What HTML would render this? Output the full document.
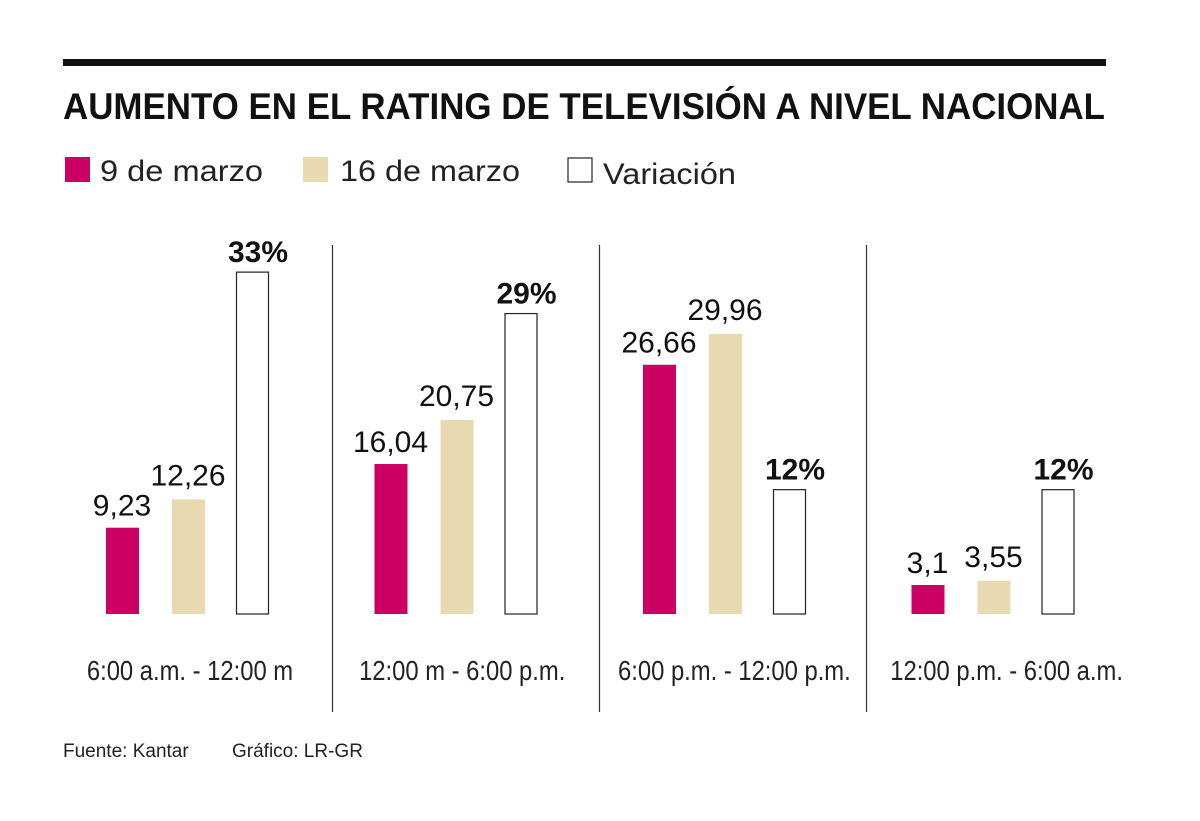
<!DOCTYPE html>
<html><head><meta charset="utf-8"><style>
body{margin:0;background:#fff;}
svg{display:block;font-family:"Liberation Sans",sans-serif;}
</style></head><body>
<svg id="chart" width="1200" height="821">
<rect x="63" y="59" width="1043" height="7" fill="#111"/>
<text x="63" y="119" font-size="37" font-weight="bold" fill="#111" textLength="1042" lengthAdjust="spacingAndGlyphs">AUMENTO EN EL RATING DE TELEVISIÓN A NIVEL NACIONAL</text>
<g>
<rect x="65" y="157" width="25" height="25" fill="#cc0063"/>
<text x="100" y="181" font-size="30" fill="#222" textLength="163" lengthAdjust="spacingAndGlyphs">9 de marzo</text>
<rect x="303" y="157" width="25" height="25" fill="#e9d9b0"/>
<text x="340" y="181" font-size="30" fill="#222" textLength="180" lengthAdjust="spacingAndGlyphs">16 de marzo</text>
<rect x="568" y="158" width="24" height="24" fill="#fff" stroke="#222" stroke-width="1.2"/>
<text x="603" y="184" font-size="30" fill="#222" textLength="133" lengthAdjust="spacingAndGlyphs">Variación</text>
</g>
<g id="bars"></g>
<text x="63" y="757" font-size="19" fill="#222">Fuente: Kantar</text>
<text x="232" y="757" font-size="19" fill="#222">Gráfico: LR-GR</text>
</svg>
<script>
const categories = ["6:00 a.m. - 12:00 m","12:00 m - 6:00 p.m.","6:00 p.m. - 12:00 p.m.","12:00 p.m. - 6:00 a.m."];
const march9 = [9.23,16.04,26.66,3.1];
const march16 = [12.26,20.75,29.96,3.55];
const variation = [33,29,12,12];
const march9Labels = ["9,23","16,04","26,66","3,1"];
const march16Labels = ["12,26","20,75","29,96","3,55"];

const NS="http://www.w3.org/2000/svg";
const g=document.getElementById('bars');
const base=614, ratingScale=9.35, pctScale=10.36;
const yR=v=>base-v*ratingScale, yP=v=>base-v*pctScale;
const groupX=i=>106+i*268.5;
function mk(tag,attrs){const e=document.createElementNS(NS,tag);for(const k in attrs)e.setAttribute(k,attrs[k]);g.appendChild(e);return e;}
categories.forEach((c,i)=>{
  const x0=groupX(i);
  if(i>0){const dx=x0-42-(i-1)*1.5;const d=mk('line',{x1:dx,x2:dx,y1:245,y2:712,stroke:'#333','stroke-width':1.2});
    
    }
  const b1=mk('rect',{x:x0,y:yR(march9[i]),width:33,height:base-yR(march9[i]),fill:'#cc0063'});
  
  
  const t1=mk('text',{x:x0+16,y:yR(march9[i])-12,'font-size':30,'text-anchor':'middle',fill:'#111'});
  t1.textContent=march9Labels[i];
  
  
  const b2=mk('rect',{x:x0+66,y:yR(march16[i]),width:33,height:base-yR(march16[i]),fill:'#e9d9b0'});
  
  
  const t2=mk('text',{x:x0+82,y:yR(march16[i])-14,'font-size':30,'text-anchor':'middle',fill:'#111'});
  t2.textContent=march16Labels[i];
  
  
  const b3=mk('rect',{x:x0+130.5,y:yP(variation[i]),width:32,height:base-yP(variation[i]),fill:'#fff',stroke:'#222','stroke-width':1.2});
  
  
  const t3=mk('text',{x:x0+152,y:yP(variation[i])-10,'font-size':30,'font-weight':'bold','text-anchor':'middle',fill:'#111'});
  t3.textContent=variation[i]+'%';
  
  
  const cx=x0+84+i*3.7;
  const cl=mk('text',{x:cx,y:680,'font-size':28,'text-anchor':'middle',fill:'#222',transform:`translate(${cx},0) scale(0.85,1) translate(${-cx},0)`});
  cl.textContent=c;
  
  
});
</script>
</body></html>
